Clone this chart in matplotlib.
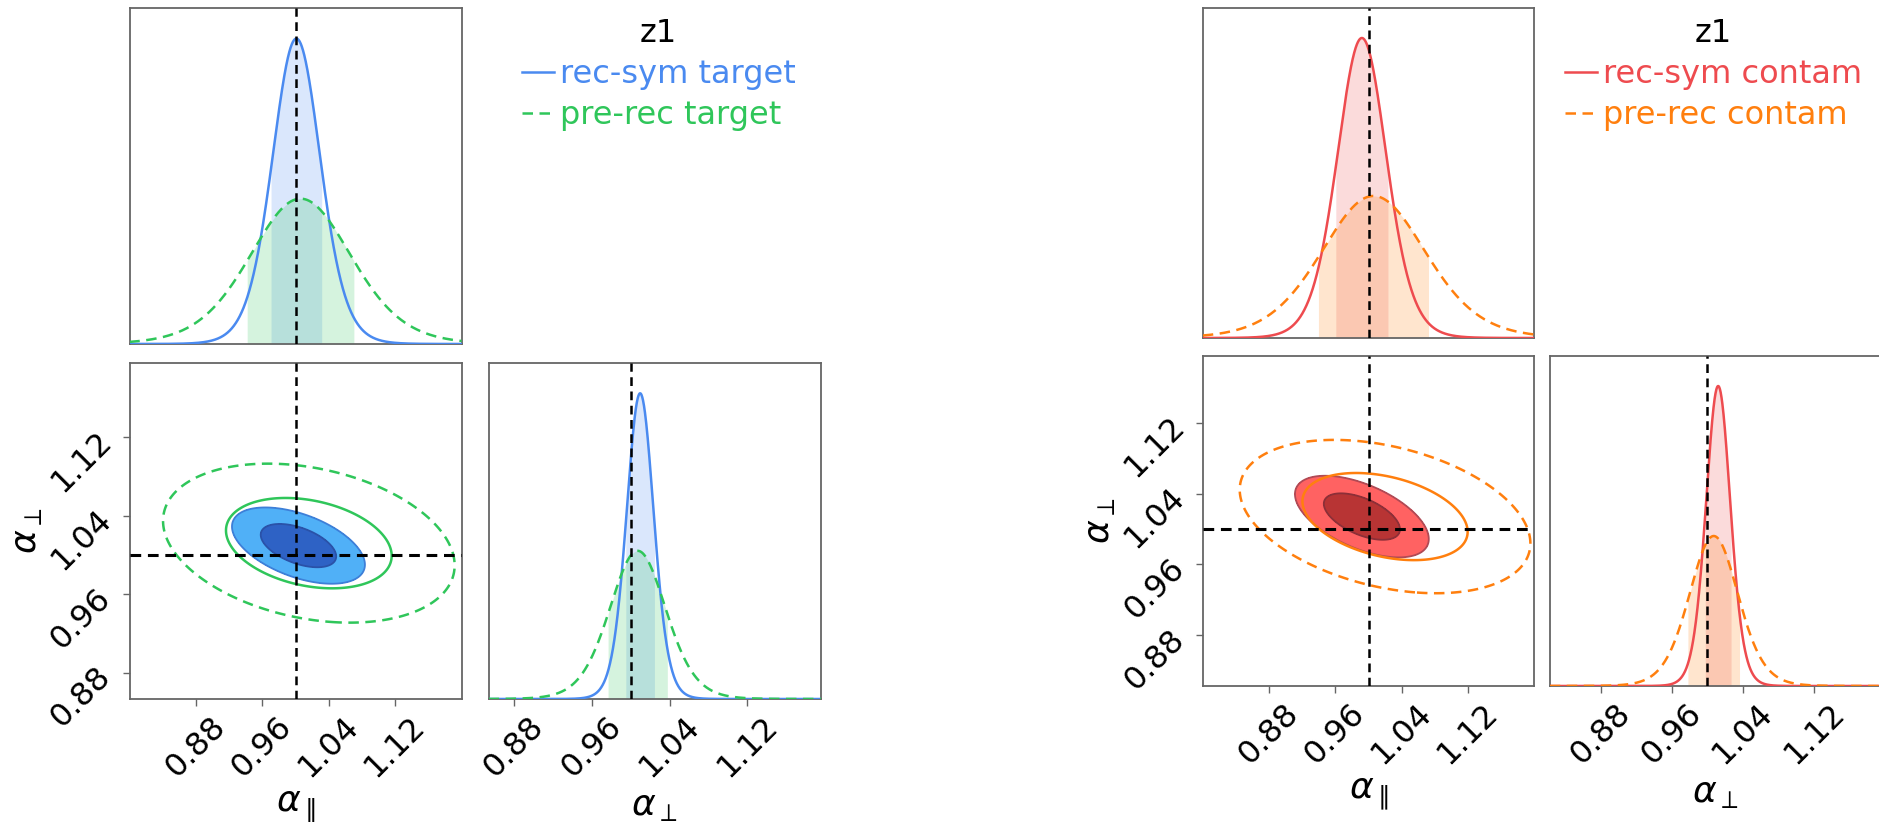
import numpy as np
import matplotlib
matplotlib.use("Agg")
import matplotlib.pyplot as plt
from matplotlib.lines import Line2D

# ---------------------------------------------------------------- data
param_labels = [r"$\alpha_{\parallel}$", r"$\alpha_{\perp}$"]
truth_values = [1.0, 1.0]
tick_values = [0.88, 0.96, 1.04, 1.12]
legend_title = "z1"
tail_dof = 12                 # Student-t tails of the posterior shapes
interval_mass = 0.68          # shaded 1D credible interval
contour_masses = [0.95, 0.68]  # 2D credible regions (outer, inner)

# target sample
target_labels = ["rec-sym target", "pre-rec target"]
target_colors = ["#4a8af0", "#2fc65a"]
target_fill = ["#50b0f7", "#2e62c5"]          # outer, inner region
target_fill_edge = ["#3d7fd8", "#2a52a8"]
target_marg_loc = [[1.001, 1.0095], [1.006, 1.007]]
target_marg_scale = [[0.0295, 0.0143], [0.062, 0.0295]]
target_2d_loc = [[1.0035, 1.0095], [1.016, 1.012]]
target_2d_scale = [[0.0287, 0.0139], [0.063, 0.029]]
target_2d_rho = [-0.50, -0.28]
target_extents = [[0.80, 1.20], [0.8535, 1.1955]]

# contaminated sample
contam_labels = ["rec-sym contam", "pre-rec contam"]
contam_colors = ["#ee4b4f", "#ff7f0e"]
contam_fill = ["#ff6262", "#b83434"]
contam_fill_edge = ["#b04a55", "#8c2f38"]
contam_marg_loc = [[0.992, 1.012], [1.006, 1.007]]
contam_marg_scale = [[0.0303, 0.014], [0.064, 0.028]]
contam_2d_loc = [[0.992, 1.014], [1.02, 1.014]]
contam_2d_scale = [[0.029, 0.0165], [0.063, 0.031]]
contam_2d_rho = [-0.55, -0.35]
contam_extents = [[0.80, 1.20], [0.823, 1.195]]

# ---------------------------------------------------------------- layout
W, H = 1879, 822
fig = plt.figure(figsize=(W / 100, H / 100), dpi=100)


def px_axes(x0, y0, x1, y1):
    return fig.add_axes([x0 / W, 1 - y1 / H, (x1 - x0) / W, (y1 - y0) / H])


SPINE = "#666666"
TICK_FS = 23
LABEL_FS = 26
LEG_FS = 23
LW = 1.8
DASH = (0, (4.2, 2.6))
TRUTH_DASH = (0, (3.5, 2.2))


def style(ax):
    for s in ax.spines.values():
        s.set_color(SPINE)
        s.set_linewidth(1.3)
    ax.tick_params(direction="out", length=5, width=1.0, color=SPINE,
                   labelsize=TICK_FS, labelcolor="black")


def marginal(x, loc, scale):
    z = (x - loc) / scale
    p = (1 + z * z / tail_dof) ** (-(tail_dof + 1) / 2)
    return p / np.trapezoid(p, x)


def joint(X, Y, loc, scale, rho):
    u = (X - loc[0]) / scale[0]
    v = (Y - loc[1]) / scale[1]
    q = (u * u - 2 * rho * u * v + v * v) / (1 - rho * rho)
    return (1 + q / tail_dof) ** (-(tail_dof + 2) / 2)


def mass_levels(Z, masses):
    flat = np.sort(Z.ravel())[::-1]
    cum = np.cumsum(flat)
    cum /= cum[-1]
    return [flat[np.searchsorted(cum, m)] for m in masses]


def corner(boxes, labels, colors, fill, fill_edge, mloc, mscale,
           loc2, scale2, rho2, extents, legend_xy):
    ax_top = px_axes(*boxes[0])
    ax_2d = px_axes(*boxes[1])
    ax_m2 = px_axes(*boxes[2])
    for ax in (ax_top, ax_2d, ax_m2):
        style(ax)

    xs = np.linspace(0.5, 1.5, 4001)
    lo_tail = (1 - interval_mass) / 2
    peaks = [[], []]
    for i in range(len(labels)):
        ls = "-" if i == 0 else DASH
        for j, ax in enumerate((ax_top, ax_m2)):
            p = marginal(xs, mloc[i][j], mscale[i][j])
            peaks[j].append(p.max())
            cdf = np.cumsum(p)
            cdf /= cdf[-1]
            lo = xs[np.searchsorted(cdf, lo_tail)]
            hi = xs[np.searchsorted(cdf, 1 - lo_tail)]
            ax.fill_between(xs, 0, p, where=(xs >= lo) & (xs <= hi),
                            color=colors[i], alpha=0.2, lw=0, zorder=1 + i)
            ax.plot(xs, p, color=colors[i], ls=ls, lw=LW, zorder=3 + i)

    gx = np.linspace(0.55, 1.45, 700)
    gy = np.linspace(0.60, 1.40, 700)
    X, Y = np.meshgrid(gx, gy)
    for i in range(len(labels)):
        Z = joint(X, Y, loc2[i], scale2[i], rho2[i])
        lv = mass_levels(Z, contour_masses)
        if i == 0:
            ax_2d.contourf(X, Y, Z, levels=[lv[0], lv[1], Z.max() * 1.01],
                           colors=fill, zorder=1)
            ax_2d.contour(X, Y, Z, levels=lv, colors=fill_edge,
                          linewidths=1.3, zorder=2)
        else:
            ax_2d.contour(X, Y, Z, levels=lv, colors=colors[i],
                          linestyles=[DASH, "-"], linewidths=LW, zorder=3)

    # reference values
    ax_top.axvline(truth_values[0], color="k", ls=TRUTH_DASH, lw=1.8, zorder=10)
    ax_2d.axvline(truth_values[0], color="k", ls=TRUTH_DASH, lw=1.8, zorder=10)
    ax_2d.axhline(truth_values[1], color="k", ls=TRUTH_DASH, lw=2.2, zorder=10)
    ax_m2.axvline(truth_values[1], color="k", ls=TRUTH_DASH, lw=1.8, zorder=10)

    ax_top.set_xlim(extents[0])
    ax_top.set_ylim(0, 1.1 * max(peaks[0]))
    ax_m2.set_xlim(extents[1])
    ax_m2.set_ylim(0, 1.1 * max(peaks[1]))
    ax_2d.set_xlim(extents[0])
    ax_2d.set_ylim(extents[1])

    ax_top.set_xticks([])
    ax_top.set_yticks([])
    ax_m2.set_yticks([])
    for ax in (ax_2d, ax_m2):
        ax.set_xticks(tick_values)
        ax.set_xticklabels([f"{t:.2f}" for t in tick_values])
        ax.tick_params(axis="x", labelrotation=45)
    ax_2d.set_yticks(tick_values)
    ax_2d.set_yticklabels([f"{t:.2f}" for t in tick_values])
    ax_2d.tick_params(axis="y", labelrotation=45)

    ax_2d.set_xlabel(param_labels[0], fontsize=LABEL_FS)
    ax_2d.set_ylabel(param_labels[1], fontsize=LABEL_FS, labelpad=1)
    ax_m2.set_xlabel(param_labels[1], fontsize=LABEL_FS)

    handles = [Line2D([], [], color=c, ls="-" if i == 0 else DASH, lw=LW)
               for i, c in enumerate(colors)]
    fig.legend(handles, labels, title=legend_title, loc="upper left",
               bbox_to_anchor=(legend_xy[0] / W, 1 - legend_xy[1] / H),
               frameon=False, fontsize=LEG_FS, title_fontsize=LEG_FS,
               handlelength=1.0, handletextpad=0.2, labelspacing=0.32,
               borderpad=0, borderaxespad=0, labelcolor=colors)


corner([(129.5, 8, 461.6, 344), (129.5, 362.7, 461.6, 699),
        (488.6, 362.7, 820.8, 699)],
       target_labels, target_colors, target_fill, target_fill_edge,
       target_marg_loc, target_marg_scale, target_2d_loc, target_2d_scale,
       target_2d_rho, target_extents, (521.7, 18))

corner([(1203, 8, 1534, 338), (1203, 356, 1534, 686),
        (1550, 356, 1881, 686)],
       contam_labels, contam_colors, contam_fill, contam_fill_edge,
       contam_marg_loc, contam_marg_scale, contam_2d_loc, contam_2d_scale,
       contam_2d_rho, contam_extents, (1565, 18))

fig.savefig("out.png", dpi=100)
